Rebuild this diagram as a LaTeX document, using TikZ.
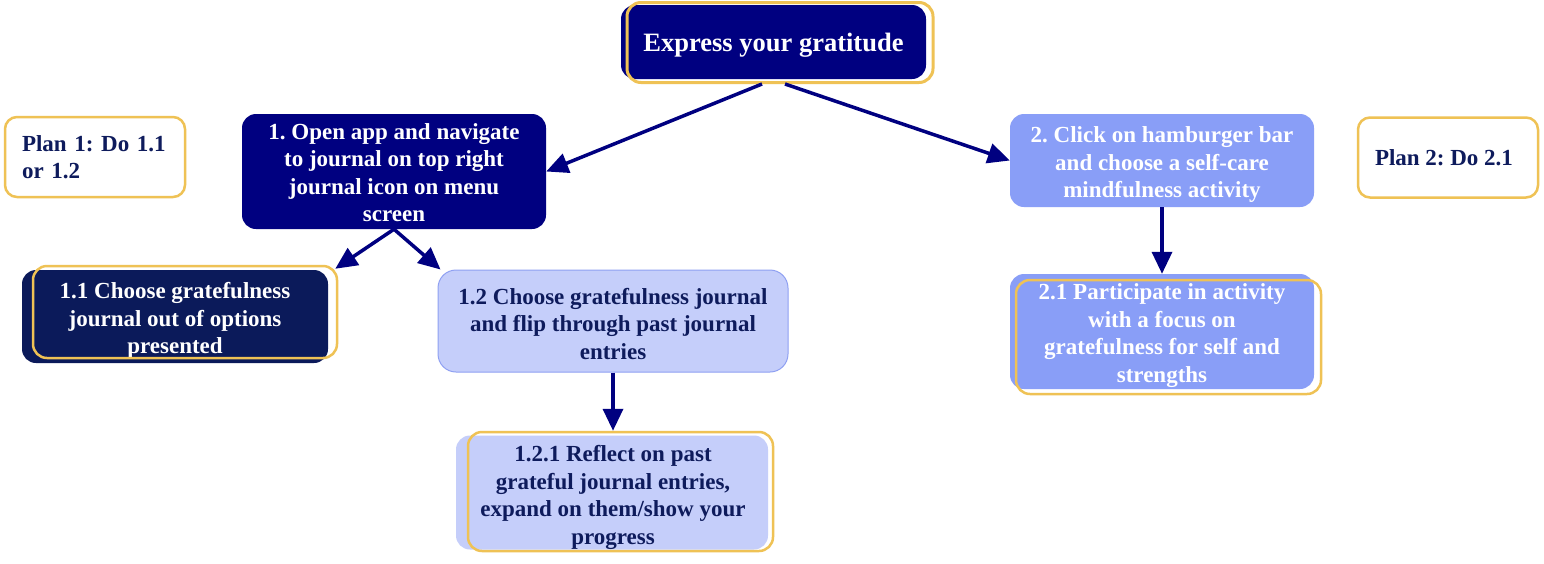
\documentclass[tikz,border=0pt]{standalone}
\usepackage{fontspec}
\setmainfont{Liberation Serif}
\usetikzlibrary{arrows.meta}
\definecolor{navy}{HTML}{000080}
\definecolor{deepblue}{HTML}{0B1A5A}
\definecolor{inkblue}{HTML}{0E1B5C}
\definecolor{gold}{HTML}{EFC255}
\definecolor{lav}{HTML}{C5CEFA}
\definecolor{lavedge}{HTML}{8FA0F2}
\definecolor{peri}{HTML}{899EF7}
\begin{document}
\frenchspacing
\begin{tikzpicture}[x=1pt,y=-1pt,
  box/.style={rounded corners=14pt, inner sep=0pt},
  txt/.style={inner sep=0pt, align=center,
    font=\bfseries\frenchspacing\fontsize{23}{27.5}\selectfont},
  goldline/.style={draw=gold, line width=3pt, rounded corners=14pt, inner sep=0pt},
  plan/.style={draw=gold, line width=2.5pt, fill=white, rounded corners=12pt,
    text=inkblue, font=\bfseries\frenchspacing\fontsize{23}{27.5}\selectfont,
    minimum height=80pt, inner ysep=0pt},
  arr/.style={draw=navy, line width=3.5pt, -{Triangle[length=22pt,width=20pt]}},
]
\useasboundingbox[fill=white] (0,0) rectangle (1544,563);

% fills
\node[box, fill=navy, minimum width=305pt, minimum height=74pt] (top) at (773.5,42) {};
\node[box, fill=navy, minimum width=304pt, minimum height=115pt] (n1) at (394,171.5) {};
\node[box, fill=deepblue, minimum width=306pt, minimum height=93pt] (n11) at (175,316.5) {};
\node[box, fill=lav, draw=lavedge, line width=1pt, minimum width=350pt,
  minimum height=102pt, rounded corners=18pt] (n12) at (613,321) {};
\node[box, fill=lav, minimum width=312pt, minimum height=114pt] (n121) at (612,492.5) {};
\node[box, fill=peri, minimum width=304pt, minimum height=93pt] (n2) at (1162,160.5) {};
\node[box, fill=peri, minimum width=304pt, minimum height=115pt] (n21) at (1162,331.5) {};

% texts
\node[txt, text=white, font=\bfseries\frenchspacing\fontsize{26.5}{30}\selectfont]
  (topt) at ([yshift=-3pt]top.center) {Express your gratitude};
\node[txt, text=white] (n1t) at ([yshift=-1pt]n1.center)
  {1. Open app and navigate\\to journal on top right\\journal icon on menu\\screen};
\node[txt, text=white] (n11t) at ([yshift=-4pt]n11.center)
  {1.1 Choose gratefulness\\journal out of options\\presented};
\node[txt, text=inkblue] (n12t) at ([yshift=-3pt]n12.center)
  {1.2 Choose gratefulness journal\\and flip through past journal\\entries};
\node[txt, text=inkblue] (n121t) at ([xshift=1pt,yshift=-5pt]n121.center)
  {1.2.1 Reflect on past\\grateful journal entries,\\expand on them/show your\\progress};
\node[txt, text=white] (n2t) at ([yshift=-4pt]n2.center)
  {2. Click on hamburger bar\\and choose a self-care\\mindfulness activity};
\node[txt, text=white] (n21t) at ([yshift=-4pt]n21.center)
  {2.1 Participate in activity\\with a focus on\\gratefulness for self and\\strengths};

% plans
\node[plan, align=left, text width=146pt, inner xsep=17pt] (p1) at (95,157) {Plan 1: Do 1.1\\or 1.2};
\node[plan, align=center, minimum width=180pt, inner xsep=0pt] (p2) at (1448,157.5) {\hspace*{-8pt}Plan 2: Do 2.1};

% gold outlines
\node[goldline, minimum width=306pt, minimum height=80pt] (topg) at (780,42.5) {};
\node[goldline, line width=2.5pt, minimum width=304pt, minimum height=92pt] (n11g) at (185,312) {};
\node[goldline, line width=2.5pt, minimum width=305pt, minimum height=119pt] (n121g) at (620.5,491.5) {};
\node[goldline, line width=2.5pt, minimum width=305pt, minimum height=114pt] (n21g) at (1168.5,337) {};

% arrows
\draw[arr] ([xshift=-18pt]topg.south) -- (n1.east);
\draw[arr] ([xshift=5pt]topg.south) -- (n2.west);
\draw[arr] (n1.south) -- ([xshift=-3pt,yshift=-4pt]n11g.north east);
\draw[arr] (n1.south) -- ([xshift=3pt]n12.north west);
\draw[arr] (n12.south) -- (n12.south |- n121g.north);
\draw[arr] (n2.south) -- (n21.north);
\end{tikzpicture}
\end{document}
